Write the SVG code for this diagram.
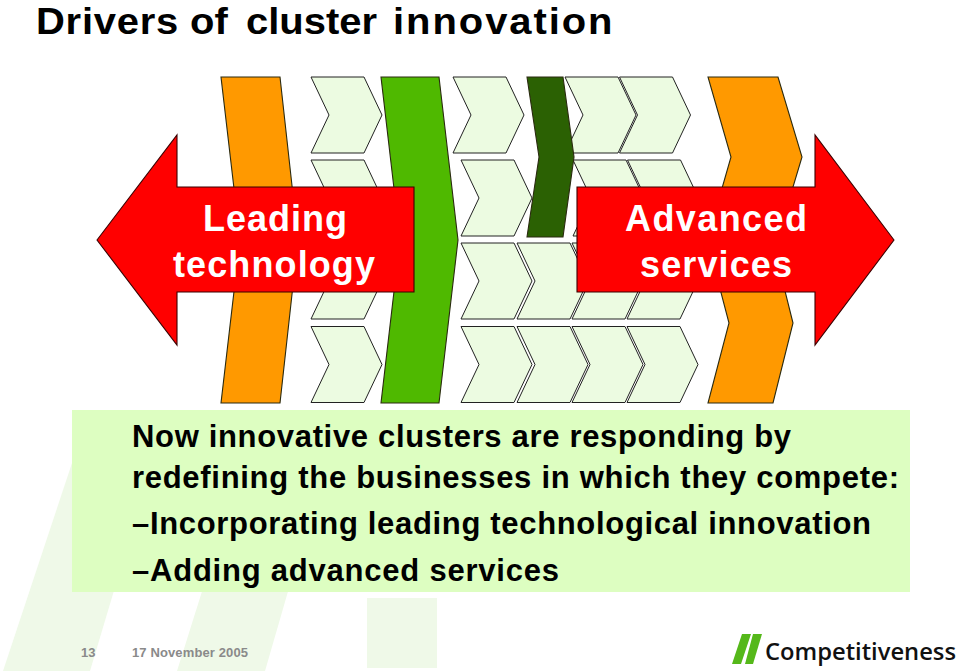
<svg xmlns="http://www.w3.org/2000/svg" width="960" height="672" viewBox="0 0 960 672">
<style>
.bar{stroke:#2a2a10;stroke-width:1.1}
.c{fill:#ecfbe1;stroke:#222;stroke-width:1}
.o{fill:#ff9900}
.ar{fill:#ff0000;stroke:#3a0000;stroke-width:1.1}
text{font-family:"Liberation Sans",Arial,sans-serif;font-weight:700}
.al{fill:#fff;font-size:36px}
.p{fill:#000;font-size:31px}
.f{fill:#8a8a8a;font-size:13px}
</style>
<defs><polygon id="ch" class="c" points="0,0 53,0 71,38 53,76 0,76 18,38"/></defs>
<rect width="960" height="672" fill="#fff"/>
<g id="watermark" fill="#eff9e8">
<polygon points="3,671 90,671 150,470 72,463"/>
<polygon points="177,671 265,671 300,550 215,550"/>
<rect x="367" y="598" width="70" height="70"/>
</g>
<text id="title" transform="translate(36,0) scale(1.08,1)" y="33.500" font-size="37" fill="#000"><tspan x="0" y="33.500" letter-spacing=".7">Drivers</tspan> <tspan x="142.600">of</tspan> <tspan x="194.400">cluster</tspan> <tspan x="330.600" letter-spacing="1.8">innovation</tspan></text>
<g id="chevrons">
<use href="#ch" x="311" y="77"/><use href="#ch" x="311" y="160"/><use href="#ch" x="311" y="243"/><use href="#ch" x="311" y="326.500"/>
<use href="#ch" x="453" y="77"/><use href="#ch" x="461" y="160"/><use href="#ch" x="461" y="243"/><use href="#ch" x="461" y="326.500"/>
<use href="#ch" x="565" y="77"/><use href="#ch" x="619.500" y="77"/>
<use href="#ch" x="573" y="160"/><use href="#ch" x="627.500" y="160"/>
<use href="#ch" x="517" y="243"/><use href="#ch" x="572" y="243"/><use href="#ch" x="627" y="243"/>
<use href="#ch" x="517" y="326.500"/><use href="#ch" x="572" y="326.500"/><use href="#ch" x="627" y="326.500"/>
</g>
<g id="bar-orange-left"><polygon class="bar o" points="221,77 280,77 298,240 280,403 221,403 240,240"/></g>
<g id="bar-green"><polygon class="bar" fill="#4fb900" points="381,77 439,77 458,240 439,403 381,403 400,240"/></g>
<g id="bar-dark-green"><polygon class="bar" fill="#2b6103" points="527,77 563,77 574,157 563,237 527,237 539,157"/></g>
<g id="bar-orange-right">
<polygon class="bar o" points="708,77 778,77 802,157 778,237 708,237 731,157"/>
<polygon class="bar o" points="708,243 773,243 793,323 773,403 708,403 729,323"/>
</g>
<g id="arrow-left">
<polygon class="ar" points="97,240 177,135 177,187 414,187 414,292 177,292 177,345"/>
<text class="al" x="203" y="231" textLength="144">Leading</text>
<text class="al" x="173" y="277" textLength="202">technology</text>
</g>
<g id="arrow-right">
<polygon class="ar" points="894,240 815,135 815,187 577,187 577,292 815,292 815,345"/>
<text class="al" x="625" y="231" textLength="182">Advanced</text>
<text class="al" x="640" y="277" textLength="152">services</text>
</g>
<g id="panel">
<rect x="72" y="410" width="838" height="182" fill="#ddfec1"/>
<text class="p" x="132" y="447" textLength="659">Now innovative clusters are responding by</text>
<text class="p" x="132" y="488" textLength="767">redefining the businesses in which they compete:</text>
<text class="p" x="132" y="534" textLength="739">–Incorporating leading technological innovation</text>
<text class="p" x="132" y="581" textLength="427">–Adding advanced services</text>
</g>
<g id="footer">
<text class="f" x="81" y="657">13</text>
<text class="f" x="132" y="657" textLength="116">17 November 2005</text>
</g>
<g id="logo">
<polygon fill="#55b81a" points="742,634 751,634 741,664 732,664"/>
<polygon fill="#55b81a" points="753,634 762,634 753,664 745,664"/>
<text x="765" y="660" style="font-family:'Open Sans','Noto Sans',sans-serif;font-weight:600" font-size="23.500" fill="#111" textLength="191" lengthAdjust="spacingAndGlyphs">Competitiveness</text>
</g>
</svg>
